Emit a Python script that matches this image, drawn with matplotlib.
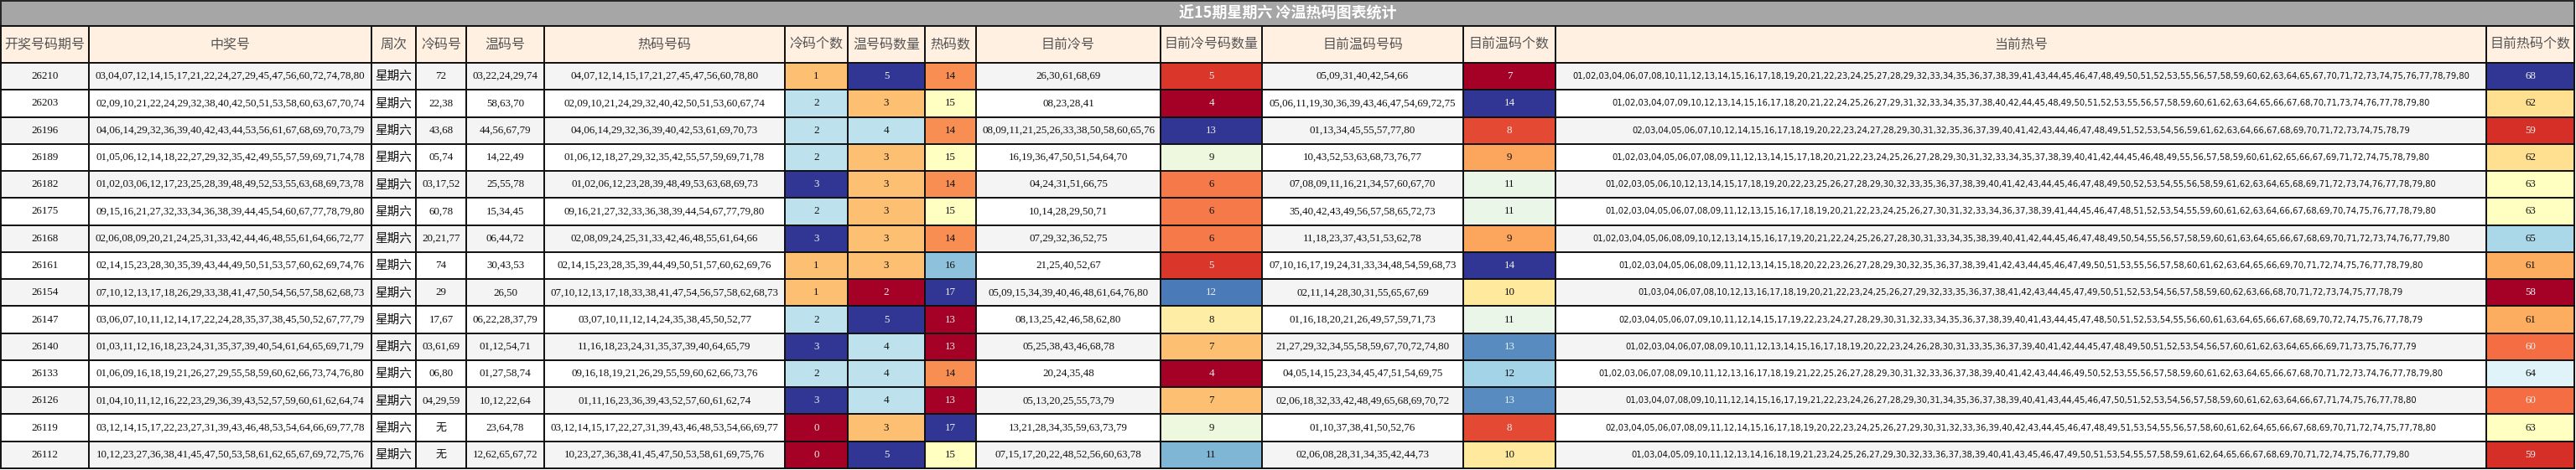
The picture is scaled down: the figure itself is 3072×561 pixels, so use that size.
import matplotlib
matplotlib.use("Agg")
import matplotlib.pyplot as plt
from matplotlib.patches import Rectangle
from matplotlib import colors

title = "近15期星期六 冷温热码图表统计"
headers = ["开奖号码期号", "中奖号", "周次", "冷码号", "温码号", "热码号码", "冷码个数", "温号码数量", "热码数",
           "目前冷号", "目前冷号码数量", "目前温码号码", "目前温码个数", "当前热号", "目前热码个数"]

periods = ["26210", "26203", "26196", "26189", "26182", "26175", "26168", "26161", "26154", "26147",
           "26140", "26133", "26126", "26119", "26112"]
winning = [
    "03,04,07,12,14,15,17,21,22,24,27,29,45,47,56,60,72,74,78,80",
    "02,09,10,21,22,24,29,32,38,40,42,50,51,53,58,60,63,67,70,74",
    "04,06,14,29,32,36,39,40,42,43,44,53,56,61,67,68,69,70,73,79",
    "01,05,06,12,14,18,22,27,29,32,35,42,49,55,57,59,69,71,74,78",
    "01,02,03,06,12,17,23,25,28,39,48,49,52,53,55,63,68,69,73,78",
    "09,15,16,21,27,32,33,34,36,38,39,44,45,54,60,67,77,78,79,80",
    "02,06,08,09,20,21,24,25,31,33,42,44,46,48,55,61,64,66,72,77",
    "02,14,15,23,28,30,35,39,43,44,49,50,51,53,57,60,62,69,74,76",
    "07,10,12,13,17,18,26,29,33,38,41,47,50,54,56,57,58,62,68,73",
    "03,06,07,10,11,12,14,17,22,24,28,35,37,38,45,50,52,67,77,79",
    "01,03,11,12,16,18,23,24,31,35,37,39,40,54,61,64,65,69,71,79",
    "01,06,09,16,18,19,21,26,27,29,55,58,59,60,62,66,73,74,76,80",
    "01,04,10,11,12,16,22,23,29,36,39,43,52,57,59,60,61,62,64,74",
    "03,12,14,15,17,22,23,27,31,39,43,46,48,53,54,64,66,69,77,78",
    "10,12,23,27,36,38,41,45,47,50,53,58,61,62,65,67,69,72,75,76",
]
weekday = ["星期六"] * 15
cold = ["72", "22,38", "43,68", "05,74", "03,17,52", "60,78", "20,21,77", "74", "29", "17,67",
        "03,61,69", "06,80", "04,29,59", "无", "无"]
warm = ["03,22,24,29,74", "58,63,70", "44,56,67,79", "14,22,49", "25,55,78", "15,34,45", "06,44,72",
        "30,43,53", "26,50", "06,22,28,37,79", "01,12,54,71", "01,27,58,74", "10,12,22,64", "23,64,78",
        "12,62,65,67,72"]
hot = ["04,07,12,14,15,17,21,27,45,47,56,60,78,80",
       "02,09,10,21,24,29,32,40,42,50,51,53,60,67,74",
       "04,06,14,29,32,36,39,40,42,53,61,69,70,73",
       "01,06,12,18,27,29,32,35,42,55,57,59,69,71,78",
       "01,02,06,12,23,28,39,48,49,53,63,68,69,73",
       "09,16,21,27,32,33,36,38,39,44,54,67,77,79,80",
       "02,08,09,24,25,31,33,42,46,48,55,61,64,66",
       "02,14,15,23,28,35,39,44,49,50,51,57,60,62,69,76",
       "07,10,12,13,17,18,33,38,41,47,54,56,57,58,62,68,73",
       "03,07,10,11,12,14,24,35,38,45,50,52,77",
       "11,16,18,23,24,31,35,37,39,40,64,65,79",
       "09,16,18,19,21,26,29,55,59,60,62,66,73,76",
       "01,11,16,23,36,39,43,52,57,60,61,62,74",
       "03,12,14,15,17,22,27,31,39,43,46,48,53,54,66,69,77",
       "10,23,27,36,38,41,45,47,50,53,58,61,69,75,76"]
cold_n = [1, 2, 2, 2, 3, 2, 3, 1, 1, 2, 3, 2, 3, 0, 0]
warm_n = [5, 3, 4, 3, 3, 3, 3, 3, 2, 5, 4, 4, 4, 3, 5]
hot_n = [14, 15, 14, 15, 14, 15, 14, 16, 17, 13, 13, 14, 13, 17, 15]
cur_cold = ["26,30,61,68,69", "08,23,28,41", "08,09,11,21,25,26,33,38,50,58,60,65,76",
            "16,19,36,47,50,51,54,64,70", "04,24,31,51,66,75", "10,14,28,29,50,71", "07,29,32,36,52,75",
            "21,25,40,52,67", "05,09,15,34,39,40,46,48,61,64,76,80", "08,13,25,42,46,58,62,80",
            "05,25,38,43,46,68,78", "20,24,35,48", "05,13,20,25,55,73,79", "13,21,28,34,35,59,63,73,79",
            "07,15,17,20,22,48,52,56,60,63,78"]
cur_cold_n = [5, 4, 13, 9, 6, 6, 6, 5, 12, 8, 7, 4, 7, 9, 11]
cur_warm = ["05,09,31,40,42,54,66", "05,06,11,19,30,36,39,43,46,47,54,69,72,75", "01,13,34,45,55,57,77,80",
            "10,43,52,53,63,68,73,76,77", "07,08,09,11,16,21,34,57,60,67,70", "35,40,42,43,49,56,57,58,65,72,73",
            "11,18,23,37,43,51,53,62,78", "07,10,16,17,19,24,31,33,34,48,54,59,68,73",
            "02,11,14,28,30,31,55,65,67,69", "01,16,18,20,21,26,49,57,59,71,73",
            "21,27,29,32,34,55,58,59,67,70,72,74,80", "04,05,14,15,23,34,45,47,51,54,69,75",
            "02,06,18,32,33,42,48,49,65,68,69,70,72", "01,10,37,38,41,50,52,76", "02,06,08,28,31,34,35,42,44,73"]
cur_warm_n = [7, 14, 8, 9, 11, 11, 9, 14, 10, 11, 13, 12, 13, 8, 10]
cur_hot_n = [68, 62, 59, 62, 63, 63, 65, 61, 58, 61, 60, 64, 60, 63, 59]

# current hot numbers: all of 01..80 not in current cold or warm lists
cur_hot = []
for c, w in zip(cur_cold, cur_warm):
    ex = set(c.split(",")) | set(w.split(","))
    cur_hot.append(",".join(f"{i:02d}" for i in range(1, 81) if f"{i:02d}" not in ex))

columns = [periods, winning, weekday, cold, warm, hot, cold_n, warm_n, hot_n,
           cur_cold, cur_cold_n, cur_warm, cur_warm_n, cur_hot, cur_hot_n]
colored = {6, 7, 8, 10, 12, 14}
edges = [1, 106, 443, 496, 556, 649, 936, 1011, 1103, 1164, 1384, 1505, 1745, 1855, 2965, 3070]

W, H = 3072, 561
fig = plt.figure(figsize=(W / 100, H / 100), dpi=100)
ax = fig.add_axes([0, 0, 1, 1])
ax.set_xlim(0, W)
ax.set_ylim(H, 0)
ax.axis("off")

cjk = ["Noto Sans CJK SC", "DejaVu Sans"]
serif = ["Liberation Serif", "Noto Sans CJK SC"]
title_h, head_h = 31, 44
row_h = (H - 2 - title_h - head_h) / 15
lw = 1.4

ax.add_patch(Rectangle((edges[0], 1), edges[-1] - edges[0], title_h - 1, facecolor="#a6a6a6",
                       edgecolor="#222", lw=lw))
ax.text(W / 2, title_h / 2 + 1, title, ha="center", va="center", color="white", fontsize=13,
        family=cjk, fontweight="bold")
cmap = plt.get_cmap("RdYlBu")

y0 = title_h
for j, h in enumerate(headers):
    x0, x1 = edges[j], edges[j + 1]
    ax.add_patch(Rectangle((x0, y0), x1 - x0, head_h, facecolor="#fff0e1", edgecolor="#111", lw=lw))
    ax.text((x0 + x1) / 2, y0 + head_h / 2, h, ha="center", va="center", fontsize=11.5, color="#555",
            family=cjk)

for j, col in enumerate(columns):
    x0, x1 = edges[j], edges[j + 1]
    if j in colored:
        norm = colors.Normalize(min(col), max(col))
    for i, v in enumerate(col):
        y = y0 + head_h + i * row_h
        tc = "#111"
        if j in colored:
            fc = cmap(norm(v))
            lum = 0.299 * fc[0] + 0.587 * fc[1] + 0.114 * fc[2]
            if lum < 0.6:
                tc = "#eee"
        else:
            fc = "#f4f4f4" if i % 2 == 0 else "white"
        ax.add_patch(Rectangle((x0, y), x1 - x0, row_h, facecolor=fc, edgecolor="#111", lw=lw))
        if j == 13:
            fam, fs = ["DejaVu Sans"], 7.2
        elif j == 2:
            fam, fs = cjk, 10.5
        else:
            fam, fs = serif, 9.4
        ax.text((x0 + x1) / 2, y + row_h / 2, str(v), ha="center", va="center", fontsize=fs,
                color=tc, family=fam)

fig.savefig("out.png", dpi=100)
